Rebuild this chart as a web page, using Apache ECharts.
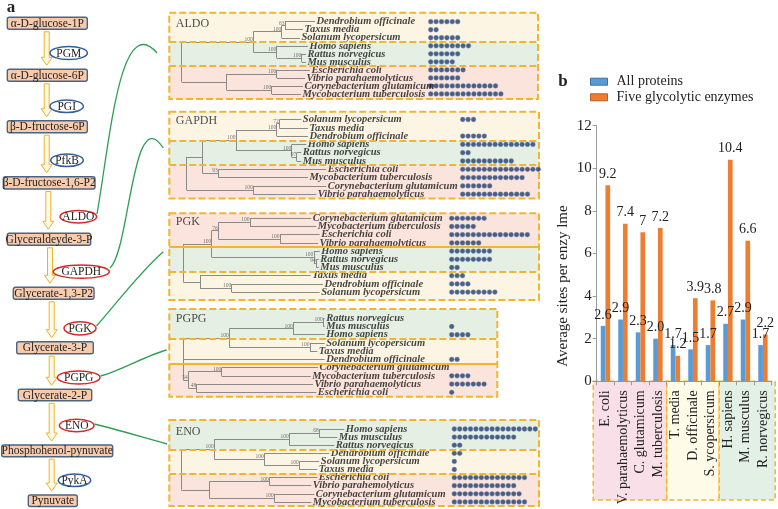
<!DOCTYPE html>
<html><head><meta charset="utf-8">
<script src="https://cdn.jsdelivr.net/npm/echarts@6/dist/echarts.min.js"></script>
<style>html,body{margin:0;padding:0;background:#fff}#c{width:778px;height:509px}</style>
</head><body><div id="c"></div>
<script>
// ================= DATA =================
// Panel b
const barCategories = ['E. coli','V. parahaemolyticus','C. glutamicum','M. tuberculosis','T. media','D. officinale','S. ycopersicum','H. sapiens','M. musculus','R. norvegicus'];
const barGroups = ['bacteria','bacteria','bacteria','bacteria','plant','plant','plant','animal','animal','animal'];
const allProteins = [2.6,2.9,2.3,2.0,1.7,1.5,1.7,2.7,2.9,1.7];
const fiveEnzymes = [9.2,7.4,7,7.2,1.2,3.9,3.8,10.4,6.6,2.2];
const yTicks = [0,2,4,6,8,10,12];
const seriesNames = ['All proteins','Five glycolytic enzymes'];

// Panel a: pathway
const metabolites = ['α-D-glucose-1P','α-D-glucose-6P','β-D-fructose-6P','β-D-fructose-1,6-P2','Glyceraldeyde-3-P','Glycerate-1,3-P2','Glycerate-3-P','Glycerate-2-P','Phosphohenol-pynuvate','Pynuvate'];
const enzymes = ['PGM','PGI','PfkB','ALDO','GAPDH','PGK','PGPG','ENO','PykA'];
const studied = [false,false,false,true,true,true,true,true,false];

// Panel a: trees (leaves listed top to bottom; numbers = branch end, objects = node {x, b: bootstrap, c: children})
const aldoSpecies = ['Dendrobium officinale','Taxus media','Solanum lycopersicum','Homo sapiens','Rattus norvegicus','Mus musculus','Escherichia coli','Vibrio parahaemolyticus','Corynebacterium glutamicum','Mycobacterium tuberculosis'];
const aldoDots = [6,2,6,8,6,5,7,6,13,14];
const aldoTree = {x:12.4,c:[{x:84,b:'100',c:[{x:112.4,b:'100',c:[{x:115.7,b:'63',c:[145.7,133.7]},130.7]},{x:107.4,b:'100',c:[138.7,{x:132.4,b:'100',c:[136.7,136.7]}]}]},{x:57.4,c:[{x:107.4,b:'100',c:[140.7,135.7]},{x:102.4,b:'100',c:[133.7,131.7]}]}]};

const gapdhSpecies = ['Solanum lycopersicum','Taxus media','Dendrobium officinale','Homo sapiens','Rattus norvegicus','Mus musculus','Escherichia coli','Mycobacterium tuberculosis','Corynebacterium glutamicum','Vibrio parahaemolyticus'];
const gapdhDots = [3,0,5,14,2,10,15,12,6,13];
const gapdhTree = {x:17.4,c:[{x:33.4,c:[{x:66.7,b:'100',c:[{x:107.4,b:'100',c:[{x:110,b:'72',c:[132,138.7]},138.7]},{x:122.4,b:'100',c:[137,{x:127.4,b:'97',c:[132,132]}]}]},{x:49,b:'93',c:[157,138.7]}]},{x:84,b:'100',c:[157,147]}]};

const pgkSpecies = ['Corynebacterium glutamicum','Mycobacterium tuberculosis','Escherichia coli','Vibrio parahaemolyticus','Homo sapiens','Rattus norvegicus','Mus musculus','Taxus media','Dendrobium officinale','Solanum lycopersicum'];
const pgkDots = [7,5,15,6,8,8,2,3,4,9];
const pgkTree = {x:14,c:[{x:42.4,b:'100',c:[{x:49,b:'76',c:[{x:80.7,b:'100',c:[142,147]},{x:110.7,b:'100',c:[150.4,148.7]}]},{x:144.5,b:'100',c:[150.4,{x:147,b:'94',c:[149.5,149.5]}]}]},{x:30.7,c:[141.4,{x:62.4,b:'100',c:[153.7,150.4]}]}]};

const pgpgSpecies = ['Rattus norvegicus','Mus musculus','Homo sapiens','Solanum lycopersicum','Taxus media','Dendrobium officinale','Corynebacterium glutamicum','Mycobacterium tuberculosis','Vibrio parahaemolyticus','Escherichia coli'];
const pgpgDots = [0,1,4,0,0,2,0,4,7,1];
const pgpgTree = {x:14,c:[{x:60,b:'100',c:[{x:124,b:'100',c:[{x:154,b:'100',c:[155.4,155.4]},155.4]},{x:140.7,b:'100',c:[155.4,148]}]},155.4,{x:19,b:'54',c:[{x:52.4,b:'100',c:[148.7,141.4]},{x:27.4,b:'48',c:[143.7,147]}]}]};

const enoSpecies = ['Homo sapiens','Mus musculus','Rattus norvegicus','Dendrobium officinale','Solanum lycopersicum','Taxus media','Escherichia coli','Vibrio parahemolyticus','Corynebacterium glutamicum','Mycobacterium tuberculosis'];
const enoDots = [16,12,2,2,1,1,14,12,13,14];
const enoTree = {x:12,c:[{x:45,b:'100',c:[{x:120,b:'100',c:[{x:150,b:'68',c:[175,168]},165]},{x:95,b:'100',c:[160,{x:130,b:'100',c:[150,148]}]}]},{x:40,c:[{x:100,b:'100',c:[148,142]},{x:105,b:'100',c:[145,142]}]}]};

// ================= LAYOUT / STYLE =================
const SERIF = 'Liberation Serif';
const YEL = '#f2b530';
const BAND_A = {plant:'#fdf5e4', animal:'#e5efe3', bacteria:'#fbe4dc'};
const BAND_B = {plant:'#fefbe9', animal:'#e3f0e6', bacteria:'#f9dfe7'};
const GROUP = {'Dendrobium officinale':'plant','Taxus media':'plant','Solanum lycopersicum':'plant','Homo sapiens':'animal','Rattus norvegicus':'animal','Mus musculus':'animal'};
const PANEL_LEFT = 169.3, DOT_STEP = 5.4;
const panels = [
  {name:'ALDO', species:aldoSpecies, dots:aldoDots, tree:aldoTree},
  {name:'GAPDH', species:gapdhSpecies, dots:gapdhDots, tree:gapdhTree},
  {name:'PGK', species:pgkSpecies, dots:pgkDots, tree:pgkTree},
  {name:'PGPG', species:pgpgSpecies, dots:pgpgDots, tree:pgpgTree},
  {name:'ENO', species:enoSpecies, dots:enoDots, tree:enoTree}
];
const panelLayout = [
  {top:12.7, bottom:99, right:538, row0:21.7, sp:8.03, dot0:261.4, solid:[], titleRow:0.25},
  {top:111.7, bottom:198.5, right:539, row0:119.5, sp:8.3, dot0:293.4, solid:[], titleRow:0.2},
  {top:213.3, bottom:300, right:539, row0:218.3, sp:8.2, dot0:282.4, solid:[0], titleRow:0.4},
  {top:309, bottom:396.7, right:497.3, row0:318.3, sp:8.22, dot0:282.4, solid:[1], titleRow:0.1},
  {top:420, bottom:506, right:539, row0:429, sp:8.1, dot0:285, solid:[], titleRow:0.3}
];
const boxRects = [[7.3,17.3,80,12],[7.3,69.3,80,12],[7.3,120.7,80,12],[3.3,176.7,91.7,12.3],[7.3,233.3,83.4,12],[13.3,287.3,80.7,12],[16.7,341.7,76.6,12],[18.3,389.3,73.4,11.5],[1.7,445,111,11.7],[28.3,495,49,11.5]];
const ellipseGeo = [[68.7,53,18.7,6.5],[66.7,106.3,16.7,6.3],[67,160.3,16.3,6.3],[78.3,216.7,18.3,6.3],[81.3,271.7,28,6.6],[80,328.3,16,6.6],[78.7,377.5,21.3,6.5],[76.7,425.5,17.3,6.2],[74.5,480.3,16.2,6.3]];
const arrowX = [46.7,46.7,46.7,48.3,50,51.7,51.7,51.7,51.7];
const connectors = [
  [97,214,110,140,120,10,157,53],
  [110,268,130,250,132,100,163.3,148],
  [96.5,326,115,305,140,272,163.3,251.7],
  [100.5,376,120,371,145,356,166.7,350],
  [94.5,424,115,429,145,438,167,444]
];

// ================= BUILD =================
const grids = [], xAxes = [], yAxes = [], series = [];

function layoutTree(node, ctr, segs, boots, leaves) {
  if (typeof node === 'number') { const r = ctr.i++; leaves[r] = node; return {x:node, y:r}; }
  const kids = node.c.map(ch => layoutTree(ch, ctr, segs, boots, leaves));
  const y0 = kids[0].y, y1 = kids[kids.length-1].y, y = (y0 + y1) / 2;
  segs.push({coords:[[node.x, y0],[node.x, y1]]});
  kids.forEach(k => segs.push({coords:[[node.x, k.y],[k.x, k.y]]}));
  if (node.b) boots.push({value:[node.x - 0.5, y], name:node.b});
  return {x:node.x, y};
}

panels.forEach((p, i) => {
  const L = panelLayout[i];
  const w = L.right - PANEL_LEFT;
  const ymin = (L.top - L.row0) / L.sp;
  const ymax = 9 + (L.bottom - (L.row0 + 9 * L.sp)) / L.sp;
  grids.push({left:PANEL_LEFT, top:L.top, width:w, height:L.bottom - L.top});
  xAxes.push({type:'value', gridIndex:i, min:0, max:w, show:false});
  yAxes.push({type:'value', gridIndex:i, min:ymin, max:ymax, inverse:true, show:false});
  const groups = p.species.map(s => GROUP[s] || 'bacteria');
  const runs = [];
  groups.forEach((g, r) => {
    if (!runs.length || runs[runs.length-1].g !== g) runs.push({g, s:r, e:r});
    else runs[runs.length-1].e = r;
  });
  const areaData = runs.map((run, k) => [
    {xAxis:0, yAxis:(k === 0 ? ymin : run.s - 0.5), itemStyle:{color:BAND_A[run.g]}},
    {xAxis:w, yAxis:(k === runs.length-1 ? ymax : run.e + 0.5)}
  ]);
  areaData.push([
    {xAxis:0, yAxis:ymin, itemStyle:{color:'rgba(0,0,0,0)', borderColor:YEL, borderWidth:2, borderType:[7,3]}},
    {xAxis:w, yAxis:ymax}
  ]);
  const sepData = runs.slice(1).map((run, k) => [
    {coord:[0, run.s - 0.5], lineStyle:{color:YEL, width:2, type:(L.solid.indexOf(k) >= 0 ? 'solid' : [7,3])}},
    {coord:[w, run.s - 0.5]}
  ]);
  series.push({type:'scatter', xAxisIndex:i, yAxisIndex:i, data:[[0,0]], symbolSize:0, silent:true, z:1,
    markArea:{silent:true, data:areaData},
    markLine:{silent:true, symbol:['none','none'], label:{show:false}, lineStyle:{color:YEL, width:2}, data:sepData}
  });
  const segs = [], boots = [], leaves = [];
  layoutTree(p.tree, {i:0}, segs, boots, leaves);
  series.push({type:'lines', coordinateSystem:'cartesian2d', xAxisIndex:i, yAxisIndex:i, polyline:false, silent:true, z:3,
    lineStyle:{color:'#8a8a8a', width:1, opacity:1}, data:segs});
  series.push({type:'scatter', xAxisIndex:i, yAxisIndex:i, silent:true, z:4, symbolSize:0,
    data:leaves.map((x, r) => ({value:[x, r], name:p.species[r]})),
    label:{show:true, position:'right', distance:1.5, formatter:'{b}', fontFamily:SERIF, fontStyle:'italic', fontWeight:'bold', fontSize:10.5, color:'#151515'}
  });
  series.push({type:'scatter', xAxisIndex:i, yAxisIndex:i, silent:true, z:4, symbolSize:0, data:boots,
    label:{show:true, position:'left', distance:0, offset:[0,-2.5], formatter:'{b}', fontFamily:SERIF, fontSize:5.5, color:'#555'}
  });
  series.push({type:'scatter', xAxisIndex:i, yAxisIndex:i, silent:true, z:4, symbolSize:0,
    data:[{value:[6.5, L.titleRow], name:p.name}],
    label:{show:true, position:'right', distance:0, formatter:'{b}', fontFamily:SERIF, fontSize:12, color:'#222'}
  });
  const dotData = [];
  p.dots.forEach((n, r) => { for (let k = 0; k < n; k++) dotData.push([L.dot0 + k * DOT_STEP, r]); });
  series.push({type:'scatter', xAxisIndex:i, yAxisIndex:i, silent:true, z:4, symbolSize:4.8, data:dotData,
    itemStyle:{color:'#243a6a', borderColor:'#6f93c6', borderWidth:0.5}});
});

// bar chart (panel b)
const B = panels.length;
grids.push({left:596.7, top:125.7, right:6.3, bottom:127.7});
xAxes.push({type:'category', gridIndex:B, data:barCategories,
  axisLine:{lineStyle:{color:'#999', width:1}},
  axisTick:{show:true, length:4, lineStyle:{color:'#999'}},
  axisLabel:{rotate:90, interval:0, fontSize:14, fontFamily:SERIF, color:'#222', margin:9}
});
yAxes.push({type:'value', gridIndex:B, min:yTicks[0], max:yTicks[yTicks.length-1], interval:yTicks[1]-yTicks[0],
  axisLine:{show:true, lineStyle:{color:'#999'}},
  axisTick:{show:true, length:4, lineStyle:{color:'#999'}},
  splitLine:{show:false},
  axisLabel:{fontSize:15, fontFamily:SERIF, color:'#222', margin:5}
});
const barLabel = {show:true, position:'top', distance:4, fontFamily:SERIF, fontSize:14, color:'#222'};
series.push({type:'bar', name:seriesNames[0], xAxisIndex:B, yAxisIndex:B, data:allProteins, barWidth:4.7, barGap:'0%',
  itemStyle:{color:'#5b9bd5'}, label:Object.assign({}, barLabel, {formatter:p => p.value.toFixed(1)})});
series.push({type:'bar', name:seriesNames[1], xAxisIndex:B, yAxisIndex:B, data:fiveEnzymes, barWidth:4.7, barGap:'0%',
  itemStyle:{color:'#ed7d31'}, label:barLabel});

// pathway graphics
const G = [];
function txt(x, y, s, size, extra) {
  return Object.assign({type:'text', x, y, silent:true, style:Object.assign({text:s, fill:'#222', fontSize:size, fontFamily:SERIF,
    align:'center', verticalAlign:'middle', textAlign:'center', textVerticalAlign:'middle'}, extra || {})});
}
metabolites.forEach((m, i) => {
  const [x, y, w, h] = boxRects[i];
  if (i < metabolites.length - 1) {
    const ax = arrowX[i], y0 = y + h + 2.5, y1 = boxRects[i+1][1] - 4;
    G.push({type:'polygon', silent:true, shape:{points:[[ax-2.5,y0],[ax+2.5,y0],[ax+2.5,y1-8],[ax+5.5,y1-8],[ax,y1],[ax-5.5,y1-8],[ax-2.5,y1-8]]},
      style:{fill:'#fffae6', stroke:'#f0b12a', lineWidth:1}});
  }
  G.push({type:'rect', silent:true, shape:{x, y, width:w, height:h, r:2}, style:{fill:'#f8cbad', stroke:'#4a6584', lineWidth:1.4}});
  G.push(txt(x + w/2, y + h/2 + 0.5, m, 11.5));
});
enzymes.forEach((e, i) => {
  const [cx, cy, rx, ry] = ellipseGeo[i];
  G.push({type:'ellipse', silent:true, shape:{cx, cy, rx, ry}, style:{fill:'#fff', stroke:studied[i] ? '#d42a2a' : '#2f5e9c', lineWidth:1.5}});
  G.push(txt(cx, cy + 0.5, e, 11.5));
});
connectors.forEach(c => {
  G.push({type:'bezierCurve', silent:true, shape:{x1:c[0], y1:c[1], cpx1:c[2], cpy1:c[3], cpx2:c[4], cpy2:c[5], x2:c[6], y2:c[7]},
    style:{stroke:'#2f9e55', lineWidth:1.3, fill:null}});
});
G.push(txt(11, 8, 'a', 17, {fontWeight:'bold'}));
G.push(txt(563, 82, 'b', 17, {fontWeight:'bold'}));
G.push(txt(563, 286, 'Average sites per enzy lme', 15));
G[G.length-1].rotation = Math.PI / 2;

const chart = echarts.init(document.getElementById('c'), null, {renderer:'canvas'});
chart.setOption({
  animation:false,
  backgroundColor:'#fff',
  grid:grids, xAxis:xAxes, yAxis:yAxes, series:series,
  legend:{orient:'vertical', left:590, top:74.7, padding:0, itemWidth:17, itemHeight:7, itemGap:1.6, icon:'rect',
    data:[{name:seriesNames[0], itemStyle:{borderColor:'#3d6fa3', borderWidth:1}}, {name:seriesNames[1], itemStyle:{borderColor:'#b85f22', borderWidth:1}}],
    textStyle:{fontFamily:SERIF, fontSize:14, color:'#222', lineHeight:14, padding:[0,0,0,4]}},
  graphic:G
});

// category-group backgrounds under the x labels of panel b
const bw = chart.convertToPixel({xAxisIndex:B}, 1) - chart.convertToPixel({xAxisIndex:B}, 0);
const yBase = chart.convertToPixel({yAxisIndex:B}, 0);
const runsB = [];
barGroups.forEach((g, r) => {
  if (!runsB.length || runsB[runsB.length-1].g !== g) runsB.push({g, s:r, e:r});
  else runsB[runsB.length-1].e = r;
});
const G2 = runsB.map((run, k) => {
  let x0 = chart.convertToPixel({xAxisIndex:B}, run.s) - bw/2;
  let x1 = chart.convertToPixel({xAxisIndex:B}, run.e) + bw/2;
  if (k === 0) x0 -= 3.5;
  if (k === runsB.length-1) x1 += 3.5;
  return {type:'rect', silent:true, z:-1, shape:{x:x0, y:yBase, width:x1 - x0, height:500 - yBase},
    style:{fill:BAND_B[run.g], stroke:YEL, lineWidth:1.5, lineDash:[5,3]}};
});
chart.setOption({graphic:G.concat(G2)});
</script></body></html>
